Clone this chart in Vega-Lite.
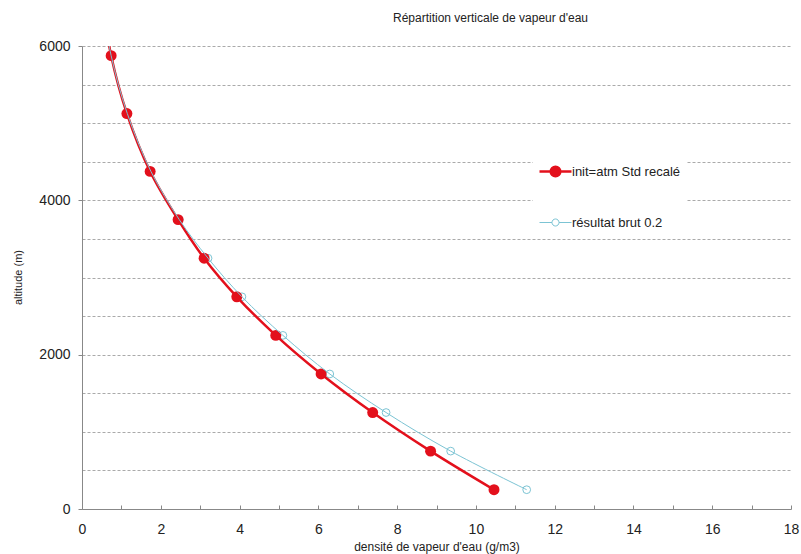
{
  "$schema": "https://vega.github.io/schema/vega-lite/v6.json",
  "width": 709,
  "height": 463,
  "autosize": "none",
  "padding": {"left": 82, "top": 46, "right": 10, "bottom": 45},
  "background": "white",
  "config": {
    "view": {"stroke": null},
    "font": "Liberation Sans"
  },
  "title": {
    "text": "Répartition verticale de vapeur d'eau",
    "fontSize": 12,
    "fontWeight": "normal",
    "color": "#222",
    "anchor": "middle",
    "dx": 54,
    "offset": 14
  },
  "data": {
    "values": [
      {"series": "init=atm Std recalé", "alt": 6625, "dens": 0.5},
      {"series": "init=atm Std recalé", "alt": 5875, "dens": 0.74},
      {"series": "init=atm Std recalé", "alt": 5125, "dens": 1.14},
      {"series": "init=atm Std recalé", "alt": 4375, "dens": 1.73},
      {"series": "init=atm Std recalé", "alt": 3750, "dens": 2.44},
      {"series": "init=atm Std recalé", "alt": 3250, "dens": 3.1},
      {"series": "init=atm Std recalé", "alt": 2750, "dens": 3.93},
      {"series": "init=atm Std recalé", "alt": 2250, "dens": 4.92},
      {"series": "init=atm Std recalé", "alt": 1750, "dens": 6.07},
      {"series": "init=atm Std recalé", "alt": 1250, "dens": 7.38},
      {"series": "init=atm Std recalé", "alt": 750, "dens": 8.85},
      {"series": "init=atm Std recalé", "alt": 250, "dens": 10.46},
      {"series": "résultat brut 0.2", "alt": 6625, "dens": 0.5},
      {"series": "résultat brut 0.2", "alt": 5875, "dens": 0.74},
      {"series": "résultat brut 0.2", "alt": 5125, "dens": 1.15},
      {"series": "résultat brut 0.2", "alt": 4375, "dens": 1.75},
      {"series": "résultat brut 0.2", "alt": 3750, "dens": 2.47},
      {"series": "résultat brut 0.2", "alt": 3250, "dens": 3.2},
      {"series": "résultat brut 0.2", "alt": 2750, "dens": 4.06},
      {"series": "résultat brut 0.2", "alt": 2250, "dens": 5.1},
      {"series": "résultat brut 0.2", "alt": 1750, "dens": 6.29},
      {"series": "résultat brut 0.2", "alt": 1250, "dens": 7.72},
      {"series": "résultat brut 0.2", "alt": 750, "dens": 9.36},
      {"series": "résultat brut 0.2", "alt": 250, "dens": 11.29}
    ]
  },
  "encoding": {
    "x": {
      "field": "dens",
      "type": "quantitative",
      "scale": {"domain": [0, 18], "nice": false, "zero": false},
      "axis": {
        "title": "densité de vapeur d'eau (g/m3)",
        "titleFontSize": 12,
        "titleFontWeight": "normal",
        "titleColor": "#222",
        "titlePadding": 5,
        "values": [0,1,2,3,4,5,6,7,8,9,10,11,12,13,14,15,16,17,18],
        "labelExpr": "datum.value % 2 === 0 ? datum.label : ''",
        "labelFontSize": 14,
        "labelColor": "#222",
        "labelPadding": 17,
        "labelFlush": false,
        "grid": false,
        "domainColor": "#888",
        "tickColor": "#888",
        "tickSize": -4
      }
    },
    "y": {
      "field": "alt",
      "type": "quantitative",
      "scale": {"domain": [0, 6000], "nice": false},
      "axis": {
        "title": "altitude (m)",
        "titleFontSize": 11,
        "titleFontWeight": "normal",
        "titleColor": "#222",
        "titleX": -64,
        "titleY": 231,
        "titleAngle": -90,
        "titleBaseline": "middle",
        "titleAlign": "center",
        "values": [0,500,1000,1500,2000,2500,3000,3500,4000,4500,5000,5500,6000],
        "labelExpr": "datum.value % 2000 === 0 ? datum.label : ''",
        "format": "d",
        "labelFontSize": 14,
        "labelColor": "#222",
        "labelPadding": 8,
        "labelFlush": false,
        "grid": true,
        "gridDash": [3, 2],
        "gridColor": "#aaa",
        "domainColor": "#888",
        "tickColor": "#888",
        "tickSize": 4,
        "tickOpacity": {"condition": {"test": "datum.value % 2000 === 0", "value": 1}, "value": 0}
      }
    }
  },
  "layer": [
    {
      "transform": [{"filter": "datum.series === 'résultat brut 0.2'"}],
      "mark": {"type": "point", "filled": false, "fill": "white", "fillOpacity": 1, "stroke": "#7cc4d4", "strokeWidth": 1, "size": 60, "opacity": 1, "clip": true}
    },
    {
      "transform": [{"filter": "datum.series === 'init=atm Std recalé'"}],
      "mark": {"type": "line", "interpolate": "catmull-rom", "strokeWidth": 2.5, "clip": true},
      "encoding": {
        "order": {"field": "alt", "sort": "descending"},
        "stroke": {
          "field": "series",
          "type": "nominal",
          "scale": {"domain": ["init=atm Std recalé", "résultat brut 0.2"], "range": ["#e3101c", "#7cc4d4"]},
          "legend": {
            "title": null,
            "orient": "none",
            "legendX": 451,
            "legendY": 113,
            "fillColor": "white",
            "padding": 6,
            "rowPadding": 34,
            "symbolSize": 1024,
            "symbolOffset": 10,
            "labelFontSize": 13,
            "labelColor": "#222",
            "labelOffset": 10,
            "labelLimit": 300,
            "encode": {
              "symbols": {
                "update": {
                  "shape": {"signal": "datum.value === 'init=atm Std recalé' ? 'M-1,0L-0.3,0M0.3,0L1,0M-0.3,0A0.3,0.3,0,1,1,0.3,0A0.3,0.3,0,1,1,-0.3,0Z' : 'M-1,0L-0.22,0M0.22,0L1,0M-0.22,0A0.22,0.22,0,1,1,0.22,0A0.22,0.22,0,1,1,-0.22,0Z'"},
                  "strokeWidth": {"signal": "datum.value === 'init=atm Std recalé' ? 2.5 : 1"},
                  "fill": {"signal": "datum.value === 'init=atm Std recalé' ? '#e3101c' : 'white'"},
                  "fillOpacity": {"value": 1}
                }
              }
            }
          }
        }
      }
    },
    {
      "transform": [{"filter": "datum.series === 'init=atm Std recalé'"}],
      "mark": {"type": "point", "filled": true, "color": "#e3101c", "size": 120, "opacity": 1, "clip": true}
    },
    {
      "transform": [{"filter": "datum.series === 'résultat brut 0.2'"}],
      "mark": {"type": "line", "interpolate": "catmull-rom", "strokeWidth": 1, "clip": true},
      "encoding": {
        "order": {"field": "alt", "sort": "descending"},
        "stroke": {"field": "series", "type": "nominal"}
      }
    }
  ]
}
